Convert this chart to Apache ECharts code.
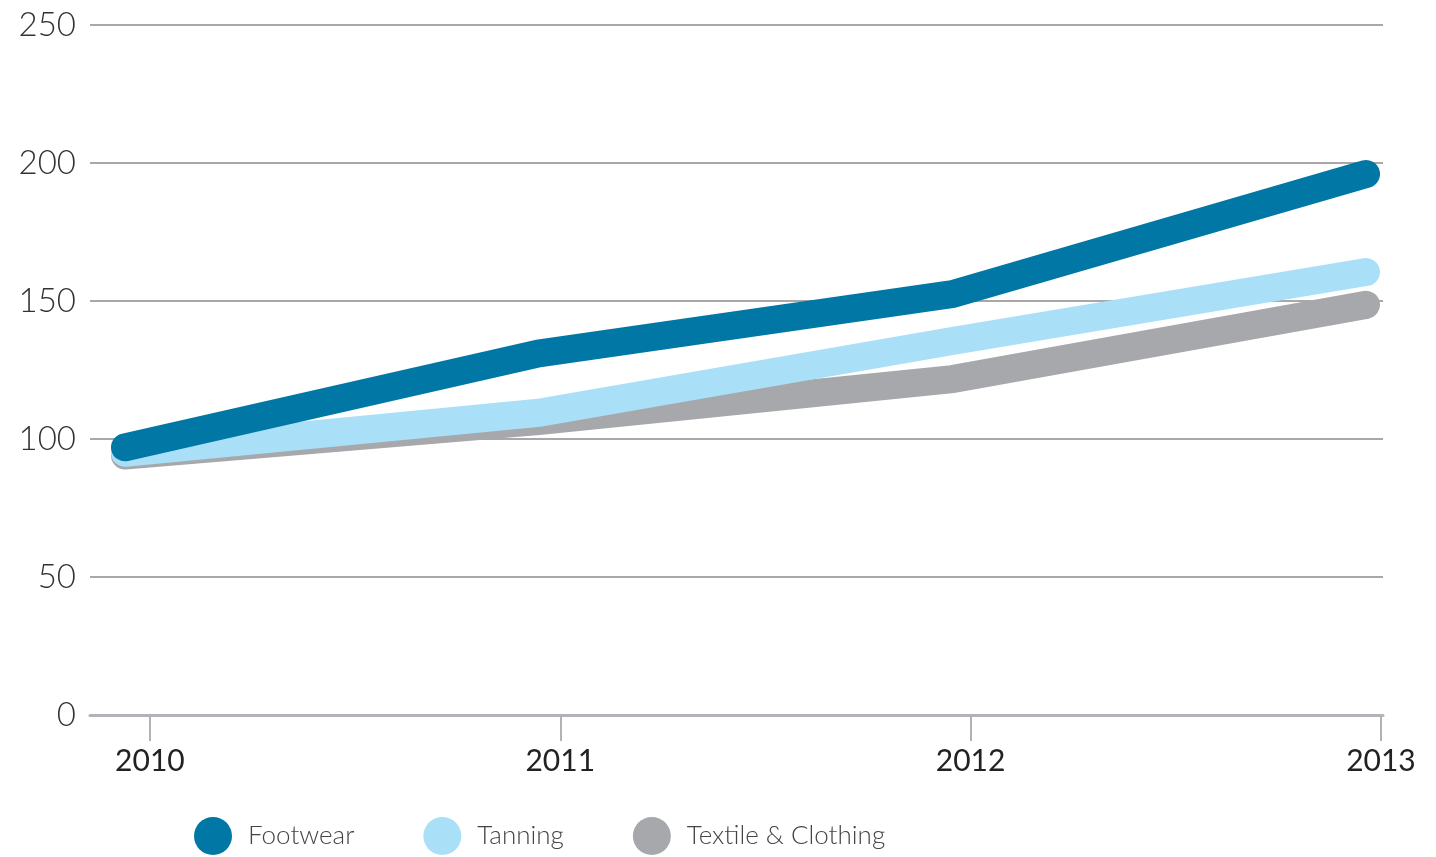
<!DOCTYPE html>
<html>
<head>
<meta charset="utf-8">
<script src="https://cdn.jsdelivr.net/npm/echarts@6/dist/echarts.min.js"></script>
<style>
html,body{margin:0;padding:0;background:#fff;}
#chart{width:1436px;height:857px;}
</style>
</head>
<body>
<div id="chart"></div>
<script>
const years = ['2010', '2011', '2012', '2013'];
const yearTicks = [2010, 2011, 2012, 2013];
const footwear = [97, 131, 152.5, 196];
const tanning = [95, 109.5, 135.5, 160.5];
const textile = [94, 106.5, 121.7, 148.6];
const seriesNames = ['Footwear', 'Tanning', 'Textile & Clothing'];
const colors = ['#0077a4', '#aadff8', '#a7a8ac'];

const chart = echarts.init(document.getElementById('chart'));
const lineStyle = (c) => ({ color: c, width: 28, cap: 'round', join: 'miter' });

chart.setOption({
  animation: false,
  grid: [
    { left: 90, right: 53, top: 25, bottom: 142 },
    { left: 125, right: 70, top: 25, bottom: 142 }
  ],
  legend: {
    left: 194, top: 817, padding: 0,
    itemWidth: 38, itemHeight: 38, itemGap: 69,
    icon: 'circle',
    data: seriesNames,
    textStyle: { fontFamily: 'Lato', fontWeight: 300, fontSize: 26, color: '#444', padding: [12, 0, 0, 11] }
  },
  xAxis: [
    {
      gridIndex: 0, type: 'value', min: 2009.854, max: 2013.005,
      axisLine: { show: true, lineStyle: { color: '#b2b2b8', width: 3 } },
      axisTick: { show: true, length: 26, customValues: yearTicks, lineStyle: { color: '#b2b2b8', width: 2 } },
      axisLabel: { customValues: yearTicks, formatter: (v) => String(v), margin: 31,
        fontFamily: 'Lato', fontSize: 30, color: '#222' },
      splitLine: { show: false }
    },
    {
      gridIndex: 1, type: 'category', data: years, boundaryGap: false, show: false
    }
  ],
  yAxis: [
    {
      gridIndex: 0, type: 'value', min: 0, max: 250, interval: 50,
      axisLine: { show: false }, axisTick: { show: false },
      axisLabel: { margin: 14, fontFamily: 'Lato', fontWeight: 300, fontSize: 33, color: '#333' },
      splitLine: { lineStyle: { color: '#a8a8a8', width: 2 } }
    },
    { gridIndex: 1, type: 'value', min: 0, max: 250, show: false, splitLine: { show: false } }
  ],
  series: [
    { name: seriesNames[2], type: 'line', xAxisIndex: 1, yAxisIndex: 1, data: textile, symbol: 'none',
      color: colors[2], lineStyle: lineStyle(colors[2]), z: 2 },
    { name: seriesNames[1], type: 'line', xAxisIndex: 1, yAxisIndex: 1, data: tanning, symbol: 'none',
      color: colors[1], lineStyle: lineStyle(colors[1]), z: 3 },
    { name: seriesNames[0], type: 'line', xAxisIndex: 1, yAxisIndex: 1, data: footwear, symbol: 'none',
      color: colors[0], lineStyle: lineStyle(colors[0]), z: 4 }
  ]
});
</script>
</body>
</html>
